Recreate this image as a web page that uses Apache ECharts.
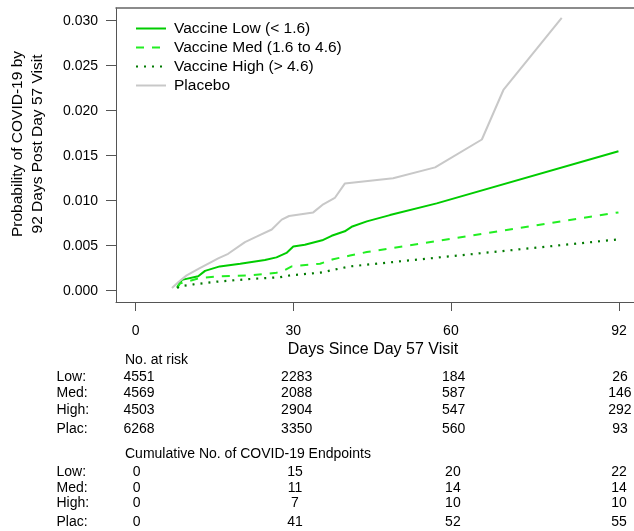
<!DOCTYPE html>
<html>
<head>
<meta charset="utf-8">
<script src="https://cdn.jsdelivr.net/npm/echarts@6/dist/echarts.min.js"></script>
<style>
  html, body { margin: 0; padding: 0; background: #fff; }
  #main { width: 634px; height: 531px; }
</style>
</head>
<body>
<div id="main"></div>
<script>
var FONT = '"Liberation Sans", Arial, Helvetica, sans-serif';

// curves: [day, probability]
var placebo = [[6.9,0.0003],[8.2,0.0010],[9.7,0.0017],[12.2,0.0025],[14.1,0.0031],[15.7,0.0036],[17.6,0.0041],
  [20.8,0.0054],[23.0,0.0060],[25.9,0.0068],[27.8,0.0079],[29.2,0.0083],[33.8,0.0087],[35.7,0.0096],
  [37.9,0.0103],[39.8,0.0119],[49.0,0.0125],[57.0,0.0137],[65.9,0.0168],[70.0,0.0223],[81.1,0.0303]];
var low = [[7.9,0.0004],[8.8,0.0012],[11.9,0.0016],[13.2,0.0022],[16.0,0.0027],[19.9,0.0030],[24.6,0.0034],
  [26.8,0.0037],[28.7,0.0042],[30.0,0.0049],[32.2,0.0051],[35.5,0.0056],[37.3,0.0061],[39.8,0.0066],
  [41.1,0.0071],[44.0,0.0077],[48.4,0.0084],[57.3,0.0097],[91.9,0.0155]];
var med = [[7.9,0.0003],[8.4,0.0008],[12.2,0.0014],[16.0,0.0016],[21.8,0.0017],[26.8,0.0020],[28.4,0.0023],
  [29.7,0.0027],[31.3,0.0028],[35.1,0.0030],[37.6,0.0035],[40.8,0.0039],[44.0,0.0043],[91.9,0.0087]];
var high = [[7.9,0.0003],[8.4,0.0005],[11.0,0.0007],[15.4,0.0010],[21.8,0.0013],[27.5,0.0015],[29.4,0.0017],
  [35.1,0.0020],[40.8,0.0027],[91.9,0.0057]];

var seriesNames = ['Vaccine Low (< 1.6)', 'Vaccine Med (1.6 to 4.6)', 'Vaccine High (> 4.6)', 'Placebo'];
var xTicks = [0, 30, 60, 92];
var yTicks = [0, 0.005, 0.010, 0.015, 0.020, 0.025, 0.030];

// risk table
var rowLabels = ['Low:', 'Med:', 'High:', 'Plac:'];
var atRisk = [
  [4551, 2283, 184, 26],
  [4569, 2088, 587, 146],
  [4503, 2904, 547, 292],
  [6268, 3350, 560, 93]
];
var cumEvents = [
  [0, 15, 20, 22],
  [0, 11, 14, 14],
  [0, 7, 10, 10],
  [0, 41, 52, 55]
];

var mychart = echarts.init(document.getElementById('main'));

function lineSeries(name, data, color, type, width) {
  return {
    name: name,
    type: 'line',
    data: data,
    symbol: 'none',
    smooth: false,
    animation: false,
    lineStyle: { color: color, width: width, type: type },
    itemStyle: { color: color },
    z: 3
  };
}

var boxLine = { color: '#555', width: 1 };

option = {
  backgroundColor: '#ffffff',
  animation: false,
  grid: {
    left: 116,
    top: 8,
    right: 0,
    bottom: 229
  },
  legend: {
    orient: 'vertical',
    left: 130,
    top: 15.5,
    itemWidth: 30,
    itemHeight: 16,
    itemGap: 3,
    data: seriesNames,
    itemStyle: { opacity: 0 },
    textStyle: {
      fontFamily: FONT,
      fontSize: 15.5,
      color: '#000',
      lineHeight: 16,
      padding: [0, 0, 0, 3]
    }
  },
  xAxis: [{
    type: 'value',
    position: 'bottom',
    min: -3.75,
    max: 94.86,
    axisLine: { show: true, onZero: false, lineStyle: boxLine },
    splitLine: { show: false },
    axisTick: {
      show: true,
      inside: false,
      length: 9,
      customValues: xTicks,
      lineStyle: boxLine
    },
    axisLabel: {
      customValues: xTicks,
      margin: 22,
      fontFamily: FONT,
      fontSize: 14,
      color: '#000'
    }
  }, {
    // top edge of the box
    type: 'value',
    position: 'top',
    min: -3.75,
    max: 94.86,
    axisLine: { show: true, onZero: false, lineStyle: { color: '#666', width: 1.5 } },
    axisTick: { show: false },
    axisLabel: { show: false },
    splitLine: { show: false }
  }],
  yAxis: {
    type: 'value',
    min: -0.001256,
    max: 0.03141,
    axisLine: { show: true, onZero: false, lineStyle: boxLine },
    splitLine: { show: false },
    axisTick: {
      show: true,
      inside: false,
      length: 10,
      customValues: yTicks,
      lineStyle: boxLine
    },
    axisLabel: {
      customValues: yTicks,
      margin: 18,
      fontFamily: FONT,
      fontSize: 14,
      color: '#000',
      formatter: function (v) { return v.toFixed(3); }
    }
  },
  series: [
    lineSeries(seriesNames[0], low, '#00cc00', 'solid', 2),
    lineSeries(seriesNames[1], med, '#22ee22', [8, 8], 2),
    lineSeries(seriesNames[2], high, '#007a00', [2, 6], 2.2),
    lineSeries(seriesNames[3], placebo, '#c8c8c8', 'solid', 2)
  ]
};
mychart.setOption(option, true);

// titles and the table under the plot, columns placed by the x axis
var atRiskShift = [3.3, 3.4, 2.8, 1];
var cumShift = [1, 1.7, 2, 0];
var rowY = [376.7, 393.3, 410, 429];
var cumRowY = [471.7, 488.3, 503.3, 521.7];

function txt(text, x, y, align, size) {
  return {
    type: 'text',
    x: x,
    y: y,
    silent: true,
    style: {
      text: text,
      fontFamily: FONT,
      fontSize: size || 14,
      fill: '#000',
      textAlign: align || 'left',
      textVerticalAlign: 'middle'
    }
  };
}

var g = [];
g.push(txt('Days Since Day 57 Visit', 373, 350, 'center', 16));
g.push({
  type: 'text',
  x: 28,
  y: 144,
  rotation: Math.PI / 2,
  silent: true,
  style: {
    text: 'Probability of COVID-19 by\n92 Days Post Day 57 Visit',
    fontFamily: FONT,
    fontSize: 15.5,
    lineHeight: 20,
    fill: '#000',
    textAlign: 'center',
    textVerticalAlign: 'middle'
  }
});
g.push(txt('No. at risk', 125, 360));
g.push(txt('Cumulative No. of COVID-19 Endpoints', 125, 454));
for (var r = 0; r < rowLabels.length; r++) {
  g.push(txt(rowLabels[r], 56.5, rowY[r]));
  g.push(txt(rowLabels[r], 56.5, cumRowY[r]));
  for (var c = 0; c < xTicks.length; c++) {
    var px = mychart.convertToPixel({ xAxisIndex: 0 }, xTicks[c]);
    g.push(txt(String(atRisk[r][c]), px + atRiskShift[c], rowY[r], 'center'));
    g.push(txt(String(cumEvents[r][c]), px + cumShift[c], cumRowY[r], 'center'));
  }
}
mychart.setOption({ graphic: g });
</script>
</body>
</html>
